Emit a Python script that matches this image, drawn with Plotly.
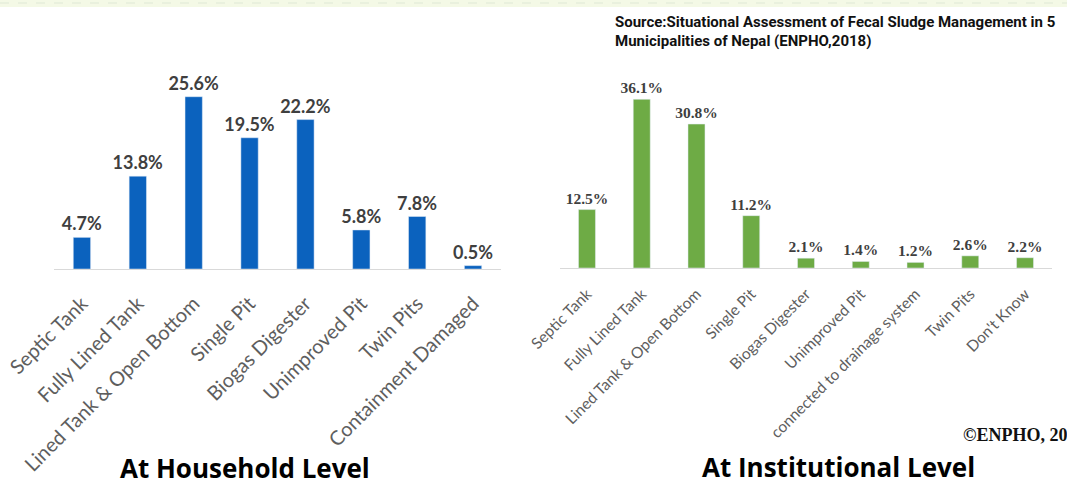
import plotly.graph_objects as go

# household level (left panel)
hh_types = ["Septic Tank", "Fully Lined Tank", "Lined Tank & Open Bottom", "Single Pit",
            "Biogas Digester", "Unimproved Pit", "Twin Pits", "Containment Damaged"]
hh_share = [4.7, 13.8, 25.6, 19.5, 22.2, 5.8, 7.8, 0.5]

# institutional level (right panel)
inst_types = ["Septic Tank", "Fully Lined Tank", "Lined Tank & Open Bottom", "Single Pit",
              "Biogas Digester", "Unimproved Pit", "connected to drainage system",
              "Twin Pits", "Don't Know"]
inst_share = [12.5, 36.1, 30.8, 11.2, 2.1, 1.4, 1.2, 2.6, 2.2]

W, H = 1067, 486
BLUE = "#0b62be"
GREEN = "#6eab45"
LABEL = "#3f3f3f"
TICK = "#5e5e5e"


def px_x(v):
    return v / W


def px_y(v):
    return 1 - v / H


fig = go.Figure()
fig.add_trace(go.Bar(
    x=hh_types, y=hh_share, marker_color=BLUE, width=0.31,
    text=[f"{v:.1f}%" for v in hh_share], textposition="outside", constraintext="none",
    outsidetextfont=dict(family="Lato", size=18, color=LABEL, weight="bold"),
    cliponaxis=False, xaxis="x", yaxis="y",
))
fig.add_trace(go.Bar(
    x=inst_types, y=inst_share, marker_color=GREEN, width=0.31,
    text=[f"{v:.1f}%" for v in inst_share], textposition="outside", constraintext="none",
    outsidetextfont=dict(family="Liberation Serif", size=15.5, color=LABEL, weight="bold"),
    cliponaxis=False, xaxis="x2", yaxis="y2",
))

axis_common = dict(showgrid=False, zeroline=False, ticks="", automargin=False,
                   showline=True, linecolor="#d9d9d9", linewidth=1)
fig.update_layout(
    width=W, height=H,
    margin=dict(l=0, r=0, t=0, b=0),
    paper_bgcolor="white", plot_bgcolor="white",
    showlegend=False, bargap=0.69,
    xaxis=dict(domain=[px_x(54), px_x(501)], anchor="y", tickangle=-45, ticklabelstandoff=14,
               tickfont=dict(family="Lato", size=20, color=TICK), **axis_common),
    yaxis=dict(domain=[px_y(269), px_y(60)], range=[0, 209 / 6.73], visible=False),
    xaxis2=dict(domain=[px_x(559.6), px_x(1052.4)], anchor="y2", tickangle=-45,
                ticklabelstandoff=10,
                tickfont=dict(family="Lato", size=15.5, color=TICK), **axis_common),
    yaxis2=dict(domain=[px_y(268), px_y(60)], range=[0, 208 / 4.673], visible=False),
)

# faint decorative strip along the top edge
fig.add_shape(type="rect", xref="paper", yref="paper", x0=0, x1=1, y0=px_y(7), y1=1,
              fillcolor="#f4f9e6", line_width=0, layer="below")
fig.add_shape(type="line", xref="paper", yref="paper", x0=0, x1=1, y0=px_y(3), y1=px_y(3),
              line=dict(color="#dfe8d6", width=1, dash="dash"), layer="below")

fig.add_annotation(text="Source:Situational Assessment of Fecal Sludge Management in 5",
                   xref="paper", yref="paper", x=px_x(613), y=px_y(22),
                   xanchor="left", yanchor="middle", showarrow=False,
                   font=dict(family="Roboto", size=15, color="#111111", weight="bold"))
fig.add_annotation(text="Municipalities of Nepal (ENPHO,2018)",
                   xref="paper", yref="paper", x=px_x(613), y=px_y(41),
                   xanchor="left", yanchor="middle", showarrow=False,
                   font=dict(family="Roboto", size=15, color="#111111", weight="bold"))
fig.add_annotation(text="©ENPHO, 20", xref="paper", yref="paper",
                   x=px_x(961), y=px_y(435), xanchor="left", yanchor="middle",
                   showarrow=False,
                   font=dict(family="Liberation Serif", size=18, color="#111111", weight="bold"))
fig.add_annotation(text="At Household Level", xref="paper", yref="paper",
                   x=px_x(245), y=px_y(468), xanchor="center", yanchor="middle",
                   showarrow=False, borderpad=0,
                   font=dict(family="Open Sans", size=26, color="#000000", weight="bold"))
fig.add_annotation(text="At Institutional Level", xref="paper", yref="paper",
                   x=px_x(838), y=px_y(467), xanchor="center", yanchor="middle",
                   showarrow=False, borderpad=0,
                   font=dict(family="Open Sans", size=26, color="#000000", weight="bold"))

# the page body has a default 8px margin; drop it so the figure fills the window
fig.write_html("out.html", config={"displayModeBar": False},
               post_script="document.body.style.margin = '0';")
